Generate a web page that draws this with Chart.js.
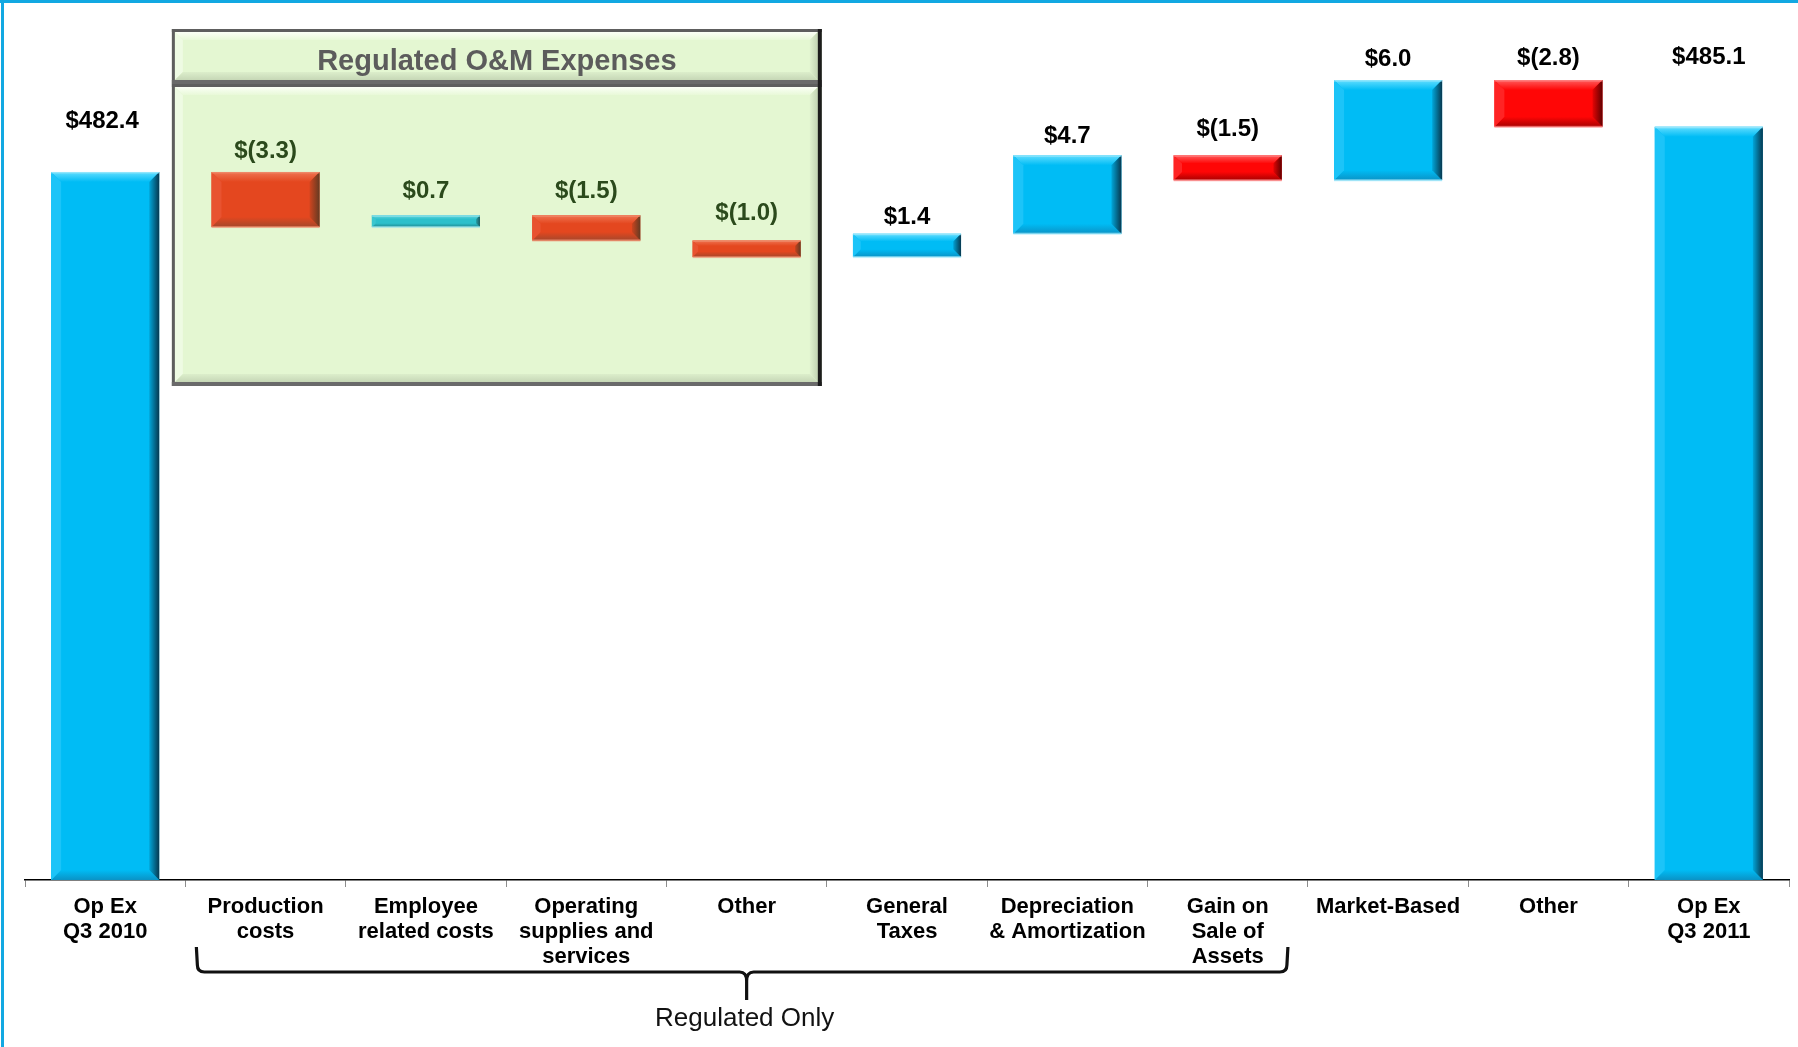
<!DOCTYPE html>
<html><head><meta charset="utf-8">
<script src="https://cdn.jsdelivr.net/npm/chart.js@4.4.0/dist/chart.umd.min.js"></script>
<style>
html,body{margin:0;padding:0;background:#fff;}
#wrap{position:relative;width:1798px;height:1047px;}
canvas{display:block;}
</style></head><body>
<div id="wrap"><canvas id="c" width="1798" height="1047"></canvas></div>
<script>
// ---------------- DATA ----------------
const categories = [
  ['Op Ex', 'Q3 2010'],
  ['Production', 'costs'],
  ['Employee', 'related costs'],
  ['Operating', 'supplies and', 'services'],
  'Other',
  ['General', 'Taxes'],
  ['Depreciation', '& Amortization'],
  ['Gain on', 'Sale of', 'Assets'],
  'Market-Based',
  'Other',
  ['Op Ex', 'Q3 2011']
];
const openingTotal = 482.4;
const closingTotal = 485.1;
const changes = [-3.3, 0.7, -1.5, -1.0, 1.4, 4.7, -1.5, 6.0, -2.8];
const axisMin = 440;
const axisMax = 490;
const boxTitle = 'Regulated O&M Expenses';
const bracketLabel = 'Regulated Only';
const omRange = [1, 4];        // categories inside the green box
const bracketRange = [1, 7];   // categories under the brace

// ---------------- STYLE ----------------
const FONT = '"Liberation Sans", Arial, Helvetica, sans-serif';
const PAL = {
  blue:   {base:'#00BCF5', top:'#63DEFF', bottom:'#0A93C6', left:'#1CC4F8', right:'#07384F', edge:'#A6EAFB'},
  red:    {base:'#FF0606', top:'#FF5C5C', bottom:'#A80000', left:'#FF2424', right:'#600000', edge:'#FF9090'},
  orange: {base:'#E4471F', top:'#EF7452', bottom:'#A5472B', left:'#E85330', right:'#643A22', edge:'#F09070'},
  teal:   {base:'#2CC0CB', top:'#66D9E0', bottom:'#1F8C94', left:'#3AC6CF', right:'#1B5A5E', edge:'#9BE3E8'}
};
const labelLift = [51, 21, 24, 24, 27, 16, 19, 26, 21, 22, 69];

// ---------------- BUILD ----------------
const ranges = [];
const values = [];
ranges.push([axisMin, openingTotal]); values.push(openingTotal);
let run = openingTotal;
changes.forEach(d => {
  const next = Math.round((run + d) * 10) / 10;
  ranges.push([Math.min(run, next), Math.max(run, next)]);
  values.push(d);
  run = next;
});
ranges.push([axisMin, closingTotal]); values.push(closingTotal);

const last = categories.length - 1;
function inBox(i){ return i >= omRange[0] && i <= omRange[1]; }
function kindOf(i){
  if (i === 0 || i === last) return 'blue';
  const d = values[i];
  if (inBox(i)) return d < 0 ? 'orange' : 'teal';
  return d < 0 ? 'red' : 'blue';
}
function fmt(v){
  return v < 0 ? '$(' + Math.abs(v).toFixed(1) + ')' : '$' + v.toFixed(1);
}
const kinds = categories.map((_, i) => kindOf(i));

// ---------------- PLUGINS ----------------
const boxPlugin = {
  id: 'omBox',
  beforeDatasetsDraw(chart){
    const ctx = chart.ctx, xs = chart.scales.x;
    const cw = xs.getPixelForValue(1) - xs.getPixelForValue(0);
    const L = xs.getPixelForValue(omRange[0]) - cw/2 - 13.5;
    const R = xs.getPixelForValue(omRange[1]) + cw/2 - 5;
    function panel(T, B){
      ctx.save();
      ctx.fillStyle = '#E4F7D2';
      ctx.fillRect(L, T, R-L, B-T);
      const b = 8, l = L+3, r = R-4, t = T+3, bb = B-4;
      let g = ctx.createLinearGradient(0, t, 0, t+b);
      g.addColorStop(0, '#FBFFF6'); g.addColorStop(1, '#E8F9D8');
      ctx.fillStyle = g;
      ctx.beginPath(); ctx.moveTo(l,t); ctx.lineTo(r,t); ctx.lineTo(r-b,t+b); ctx.lineTo(l+b,t+b); ctx.closePath(); ctx.fill();
      ctx.fillStyle = '#EEFBE3';
      ctx.beginPath(); ctx.moveTo(l,t); ctx.lineTo(l+b,t+b); ctx.lineTo(l+b,bb-b); ctx.lineTo(l,bb); ctx.closePath(); ctx.fill();
      g = ctx.createLinearGradient(r-b, 0, r, 0);
      g.addColorStop(0, '#E0F2CF'); g.addColorStop(1, '#C2D3B3');
      ctx.fillStyle = g;
      ctx.beginPath(); ctx.moveTo(r,t); ctx.lineTo(r-b,t+b); ctx.lineTo(r-b,bb-b); ctx.lineTo(r,bb); ctx.closePath(); ctx.fill();
      g = ctx.createLinearGradient(0, bb-b, 0, bb);
      g.addColorStop(0, '#DCEECB'); g.addColorStop(1, '#C6D7B6');
      ctx.fillStyle = g;
      ctx.beginPath(); ctx.moveTo(l,bb); ctx.lineTo(r,bb); ctx.lineTo(r-b,bb-b); ctx.lineTo(l+b,bb-b); ctx.closePath(); ctx.fill();
      ctx.fillStyle = '#5E5E5E';
      ctx.fillRect(L, T, R-L, 3);
      ctx.fillRect(L, T, 3, B-T);
      ctx.fillStyle = '#6A6A6A';
      ctx.fillRect(L, B-4, R-L, 4);
      ctx.fillStyle = '#1C1C1C';
      ctx.fillRect(R-4, T, 4, B-T);
      ctx.restore();
    }
    panel(29, 84);
    panel(84, 386);
    ctx.save();
    ctx.font = 'bold 29px ' + FONT;
    ctx.fillStyle = '#5C5C5C';
    ctx.textAlign = 'center';
    ctx.textBaseline = 'middle';
    ctx.fillText(boxTitle, (L+R)/2, 62);
    ctx.restore();
  }
};

const bevelPlugin = {
  id: 'bevel',
  afterDatasetsDraw(chart){
    const ctx = chart.ctx;
    const meta = chart.getDatasetMeta(0);
    meta.data.forEach((el, i) => {
      const p = el.getProps(['x','y','base','width'], true);
      const L = p.x - p.width/2, R = p.x + p.width/2;
      const T = Math.min(p.y, p.base), B = Math.max(p.y, p.base);
      const h = B - T;
      const c = PAL[kinds[i]];
      const b = Math.min(10, h/3);
      ctx.save();
      let g = ctx.createLinearGradient(0, T, 0, T+b);
      g.addColorStop(0, c.top); g.addColorStop(1, c.base);
      ctx.fillStyle = g;
      ctx.beginPath(); ctx.moveTo(L,T); ctx.lineTo(R,T); ctx.lineTo(R-b,T+b); ctx.lineTo(L+b,T+b); ctx.closePath(); ctx.fill();
      g = ctx.createLinearGradient(0, B-b, 0, B);
      g.addColorStop(0, c.base); g.addColorStop(1, c.bottom);
      ctx.fillStyle = g;
      ctx.beginPath(); ctx.moveTo(L,B); ctx.lineTo(R,B); ctx.lineTo(R-b,B-b); ctx.lineTo(L+b,B-b); ctx.closePath(); ctx.fill();
      ctx.fillStyle = c.left;
      ctx.beginPath(); ctx.moveTo(L,T); ctx.lineTo(L+b,T+b); ctx.lineTo(L+b,B-b); ctx.lineTo(L,B); ctx.closePath(); ctx.fill();
      g = ctx.createLinearGradient(R-b-2, 0, R, 0);
      g.addColorStop(0, c.base); g.addColorStop(1, c.right);
      ctx.fillStyle = g;
      ctx.beginPath(); ctx.moveTo(R,T); ctx.lineTo(R-b,T+b); ctx.lineTo(R-b,B-b); ctx.lineTo(R,B); ctx.closePath(); ctx.fill();
      ctx.fillStyle = c.edge;
      ctx.globalAlpha = 0.7;
      ctx.fillRect(L, T, R-L, 1.5);
      if (i !== 0 && i !== last) ctx.fillRect(L, B-1, R-L, 2);
      ctx.restore();

      ctx.save();
      ctx.font = 'bold 24px ' + FONT;
      ctx.fillStyle = inBox(i) ? '#2B4A1C' : '#000000';
      ctx.textAlign = 'center';
      ctx.textBaseline = 'middle';
      ctx.fillText(fmt(values[i]), p.x - (i===0 ? 3 : 0), T - labelLift[i]);
      ctx.restore();
    });
  }
};

const bracePlugin = {
  id: 'brace',
  afterDraw(chart){
    const ctx = chart.ctx, xs = chart.scales.x;
    const cw = xs.getPixelForValue(1) - xs.getPixelForValue(0);
    const L = xs.getPixelForValue(bracketRange[0]) - cw/2 + 12;
    const R = xs.getPixelForValue(bracketRange[1]) + cw/2 - 21;
    const Cx = xs.getPixelForValue(omRange[1]);
    const yTop = 947, yLine = 972, yTip = 1000, r = 7;
    ctx.save();
    ctx.strokeStyle = '#111';
    ctx.lineWidth = 3.2;
    ctx.lineJoin = 'round';
    ctx.beginPath();
    ctx.moveTo(L - 1, yTop);
    ctx.lineTo(L, yLine - r);
    ctx.quadraticCurveTo(L, yLine, L + r, yLine);
    ctx.lineTo(Cx - r, yLine);
    ctx.quadraticCurveTo(Cx, yLine, Cx, yLine + r + 2);
    ctx.lineTo(Cx, yTip);
    ctx.moveTo(Cx, yLine + r + 2);
    ctx.quadraticCurveTo(Cx, yLine, Cx + r, yLine);
    ctx.lineTo(R - r, yLine);
    ctx.quadraticCurveTo(R, yLine, R, yLine - r);
    ctx.lineTo(R + 1, yTop);
    ctx.stroke();
    ctx.font = '26px ' + FONT;
    ctx.fillStyle = '#111';
    ctx.textAlign = 'center';
    ctx.textBaseline = 'middle';
    ctx.fillText(bracketLabel, Cx - 2, 1019);
    ctx.fillStyle = '#12A8E2';
    ctx.fillRect(0, 0, chart.width, 3);
    ctx.fillRect(1, 0, 3, chart.height);
    ctx.restore();
  }
};

// ---------------- CHART ----------------
new Chart(document.getElementById('c'), {
  type: 'bar',
  data: {
    labels: categories,
    datasets: [{
      data: ranges,
      backgroundColor: kinds.map(k => PAL[k].base),
      borderWidth: 0,
      borderSkipped: false,
      barPercentage: 0.674,
      categoryPercentage: 1
    }]
  },
  options: {
    responsive: false,
    animation: false,
    events: [],
    layout: { padding: { left: 25, right: 9, top: 45, bottom: 0 } },
    plugins: { legend: { display: false }, tooltip: { enabled: false } },
    scales: {
      x: {
        grid: { display: true, drawOnChartArea: false, drawTicks: true, tickLength: 7, color: '#8C8C8C', lineWidth: 1, offset: true },
        border: { display: true, color: '#000', width: 1.5 },
        ticks: { color: '#000', font: { family: FONT, size: 22, weight: 'bold', lineHeight: 1.14 }, padding: 7, maxRotation: 0, minRotation: 0, autoSkip: false },
        afterFit(s) { s.height = 167; }
      },
      y: { display: false, min: axisMin, max: axisMax }
    }
  },
  plugins: [boxPlugin, bevelPlugin, bracePlugin]
});
</script>
</body></html>
